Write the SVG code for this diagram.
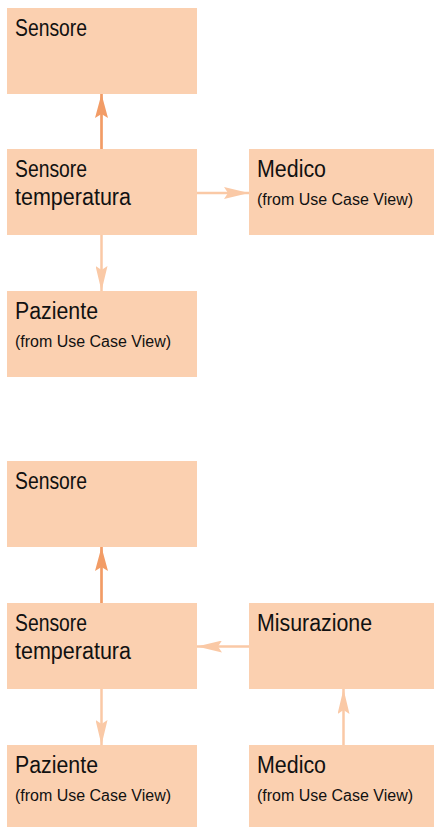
<svg xmlns="http://www.w3.org/2000/svg" width="434" height="827" viewBox="0 0 434 827">
<style>
.box{fill:#FBD0B0;}
.t{font-family:"Liberation Sans",Arial,sans-serif;font-size:23px;fill:#111111;}
.s{font-family:"Liberation Sans",Arial,sans-serif;font-size:16px;fill:#111111;}
.dark{stroke:#F29C66;stroke-width:2.7;fill:none;}
.light{stroke:#FAC9A6;stroke-width:2.5;fill:none;}
</style>
<defs>
<marker id="ad" markerUnits="userSpaceOnUse" markerWidth="24" markerHeight="13" refX="24" refY="6.5" orient="auto" viewBox="0 0 24 13">
<path d="M0,0 L24,6.5 L0,13 L4,6.5 z" fill="#F29C66"/>
</marker>
<marker id="al" markerUnits="userSpaceOnUse" markerWidth="25" markerHeight="12" refX="25" refY="6" orient="auto" viewBox="0 0 25 12">
<path d="M0,0 L25,6 L0,12 L4,6 z" fill="#FAC9A6"/>
</marker>
</defs>
<g id="connectors">
<line class="dark" x1="101.5" y1="149" x2="101.5" y2="94" marker-end="url(#ad)"/>
<line class="light" x1="197" y1="193" x2="249" y2="193" marker-end="url(#al)"/>
<line class="light" x1="101.5" y1="235" x2="101.5" y2="291" marker-end="url(#al)"/>
<line class="dark" x1="101.5" y1="603" x2="101.5" y2="547" marker-end="url(#ad)"/>
<line class="light" x1="249" y1="646.5" x2="197" y2="646.5" marker-end="url(#al)"/>
<line class="light" x1="101.5" y1="689" x2="101.5" y2="745" marker-end="url(#al)"/>
<line class="light" x1="343.5" y1="745" x2="343.5" y2="689" marker-end="url(#al)"/>
</g>
<g id="sensore1">
<rect class="box" x="7" y="8" width="190" height="86"/>
<text class="t" x="15" y="36" textLength="72" lengthAdjust="spacingAndGlyphs">Sensore</text>
</g>
<g id="sensoreTemperatura1">
<rect class="box" x="7" y="149" width="190" height="86"/>
<text class="t" x="15" y="177" textLength="72" lengthAdjust="spacingAndGlyphs">Sensore</text>
<text class="t" x="15" y="205" textLength="116" lengthAdjust="spacingAndGlyphs">temperatura</text>
</g>
<g id="medico1">
<rect class="box" x="249" y="149" width="185" height="86"/>
<text class="t" x="257" y="177" textLength="69" lengthAdjust="spacingAndGlyphs">Medico</text>
<text class="s" x="257" y="205" textLength="156" lengthAdjust="spacingAndGlyphs">(from Use Case View)</text>
</g>
<g id="paziente1">
<rect class="box" x="7" y="291" width="190" height="86"/>
<text class="t" x="15" y="319" textLength="83" lengthAdjust="spacingAndGlyphs">Paziente</text>
<text class="s" x="15" y="347" textLength="156" lengthAdjust="spacingAndGlyphs">(from Use Case View)</text>
</g>
<g id="sensore2">
<rect class="box" x="7" y="461" width="190" height="86"/>
<text class="t" x="15" y="489" textLength="72" lengthAdjust="spacingAndGlyphs">Sensore</text>
</g>
<g id="sensoreTemperatura2">
<rect class="box" x="7" y="603" width="190" height="86"/>
<text class="t" x="15" y="631" textLength="72" lengthAdjust="spacingAndGlyphs">Sensore</text>
<text class="t" x="15" y="659" textLength="116" lengthAdjust="spacingAndGlyphs">temperatura</text>
</g>
<g id="misurazione">
<rect class="box" x="249" y="603" width="185" height="86"/>
<text class="t" x="257" y="631" textLength="115" lengthAdjust="spacingAndGlyphs">Misurazione</text>
</g>
<g id="paziente2">
<rect class="box" x="7" y="745" width="190" height="82"/>
<text class="t" x="15" y="773" textLength="83" lengthAdjust="spacingAndGlyphs">Paziente</text>
<text class="s" x="15" y="801" textLength="156" lengthAdjust="spacingAndGlyphs">(from Use Case View)</text>
</g>
<g id="medico2">
<rect class="box" x="249" y="745" width="185" height="82"/>
<text class="t" x="257" y="773" textLength="69" lengthAdjust="spacingAndGlyphs">Medico</text>
<text class="s" x="257" y="801" textLength="156" lengthAdjust="spacingAndGlyphs">(from Use Case View)</text>
</g>
</svg>
